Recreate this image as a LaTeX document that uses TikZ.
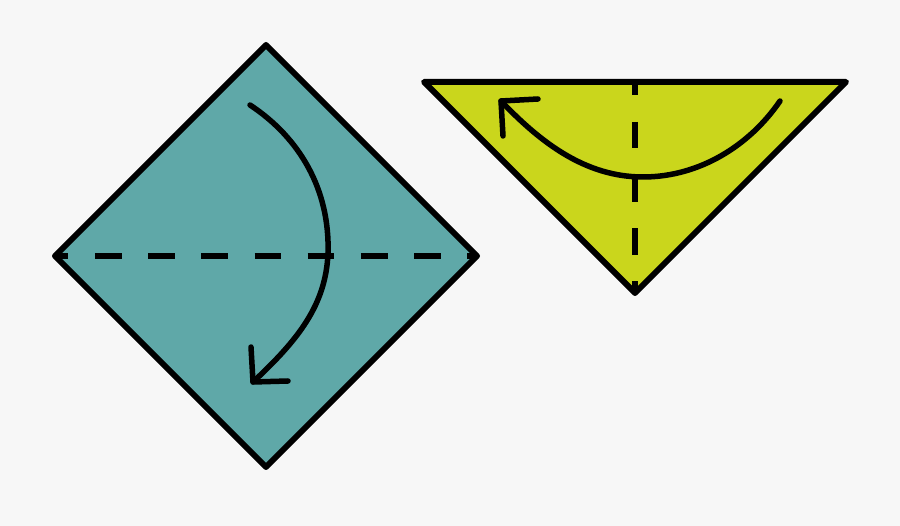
\documentclass[tikz,border=0pt]{standalone}
\begin{document}
\begin{tikzpicture}[x=1pt,y=-1pt,
  paper/.style={line width=6pt,line join=round},
  crease/.style={line width=6pt,dash pattern=on 26.6pt off 26.6pt,dash phase=13.3pt},
  foldarrow/.style={line width=5.5pt,line cap=round,line join=round}]
\definecolor{bg}{HTML}{F7F7F7}
\definecolor{teal}{HTML}{5FA8A8}
\definecolor{lime}{HTML}{CAD61C}
\fill[bg] (0,0) rectangle (900,526);
\useasboundingbox (0,0) rectangle (900,526);
% diamond
\coordinate (dT) at (266,45);
\coordinate (dR) at (477,256);
\coordinate (dB) at (266,467);
\coordinate (dL) at (55,256);
\filldraw[paper,fill=teal] (dT) -- (dR) -- (dB) -- (dL) -- cycle;
\draw[crease] (dL) -- (dR);
% triangle
\coordinate (tL) at (424,82);
\coordinate (tR) at (846,82);
\coordinate (tB) at (635,293);
\coordinate (tM) at (635,82);
\filldraw[paper,fill=lime] (tL) -- (tR) -- (tB) -- cycle;
\draw[crease] (tM) -- (tB);
% arrow in diamond
\coordinate (a1s) at (250,105);
\coordinate (a1m) at (328,253);
\coordinate (a1e) at (253,382);
\draw[foldarrow] (a1s) .. controls (300,138) and (330,190) .. (a1m)
  .. controls (326,305) and (298,340) .. (a1e);
\draw[foldarrow] (251,347) -- (a1e) -- (288,381);
% arrow in triangle
\coordinate (a2s) at (780,101);
\coordinate (a2m) at (643,177);
\coordinate (a2e) at (501,101);
\draw[foldarrow] (a2s) .. controls (750,145) and (700,177) .. (a2m)
  .. controls (585,177) and (540,142) .. (a2e);
\draw[foldarrow] (538,99) -- (a2e) -- (503,136);
\end{tikzpicture}
\end{document}
